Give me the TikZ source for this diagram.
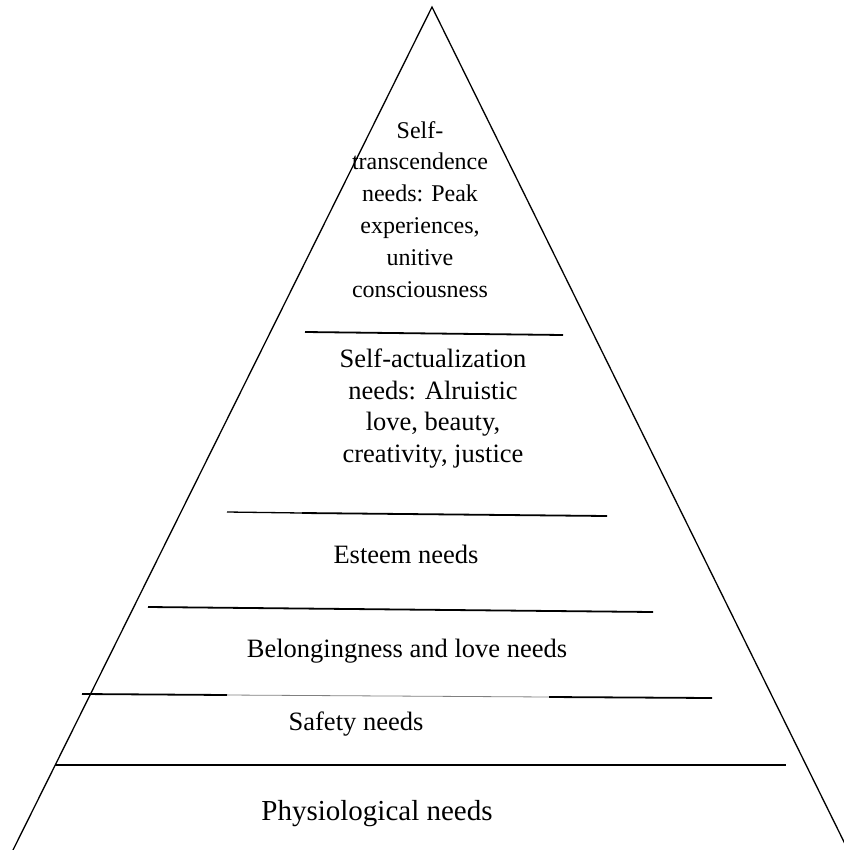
\documentclass[tikz,border=0pt]{standalone}
\usepackage{fontspec}
\setmainfont{Liberation Serif}
\begin{document}
\begin{tikzpicture}[x=1bp,y=-1bp,
  side/.style={line width=1.3bp,black},
  divider/.style={line width=1.8bp,black},
  faint/.style={line width=0.8bp,gray},
  lbl/.style={inner sep=0pt,anchor=base,align=center},
  f24/.style={font=\fontsize{24bp}{31.8bp}\selectfont},
  f26/.style={font=\fontsize{26.5bp}{31.5bp}\selectfont},
  f29/.style={font=\fontsize{29bp}{33bp}\selectfont}]
\useasboundingbox (0,0) rectangle (844,850);
\begin{scope}
\clip (0,0) rectangle (844,850);
% pyramid sides
\coordinate (apex) at (432,7);
\coordinate (bl) at (13,850);
\coordinate (br) at (848,850);
\draw[side] (bl) -- (apex) -- (br);
% dividers
\coordinate (d1a) at (305,332); \coordinate (d1b) at (563,335);
\draw[divider] (d1a) -- (d1b);
\coordinate (d2a) at (227,512); \coordinate (d2m) at (302,513); \coordinate (d2b) at (607,516);
\draw[line width=1.3bp] (d2a) -- (d2m);
\draw[divider] (d2m) -- (d2b);
\coordinate (d3a) at (148,607); \coordinate (d3b) at (653,612);
\draw[divider] (d3a) -- (d3b);
\coordinate (d4a) at (82,694); \coordinate (d4m) at (227,695);
\coordinate (d4n) at (549,697); \coordinate (d4b) at (712,698);
\draw[divider] (d4a) -- (d4m);
\draw[faint] (d4m) -- (d4n);
\draw[divider] (d4n) -- (d4b);
\coordinate (d5a) at (55,765); \coordinate (d5b) at (786,765);
\draw[line width=2.2bp] (d5a) -- (d5b);
\end{scope}
% labels (base anchor = baseline of the last line)
\node[lbl,f24] (trans) at (420,297) {Self-\\transcendence\\needs: Peak\\experiences,\\unitive\\consciousness};
\node[lbl,f26] (actual) at (433,462) {Self-actualization\\needs: Alruistic\\love, beauty,\\creativity, justice};
\node[lbl,f26] (esteem) at (406,563) {Esteem needs};
\node[lbl,f26] (belong) at (407,657) {Belongingness and love needs};
\node[lbl,f26] (safety) at (356,730) {Safety needs};
\node[lbl,f29] (physio) at (377,820) {Physiological needs};
\end{tikzpicture}
\end{document}
